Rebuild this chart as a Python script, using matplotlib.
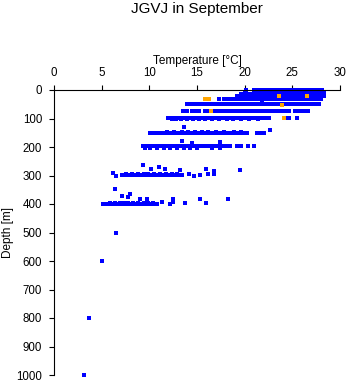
import numpy as np
import matplotlib
matplotlib.use('Agg')
import matplotlib.pyplot as plt

plt.rcParams['font.family'] = ['Liberation Sans', 'DejaVu Sans']

# Filas densas de datos: profundidad (m) y temperaturas (°C)
row_depths = [0, 8, 15, 22, 33, 50, 75, 98, 103, 150, 146, 198, 202, 298, 294, 401, 397]
row_temps = [
    [20.1, 21.0, 21.3, 21.5, 21.8, 22.2, 22.4, 22.7, 23.0, 23.3, 23.6, 23.9, 24.2, 24.5, 24.8,
     25.1, 25.4, 25.7, 26.0, 26.3, 26.6, 26.9, 27.2, 27.5, 27.8, 28.1],
    [20.0, 21.1, 21.4, 21.7, 22.0, 22.3, 22.6, 22.9, 23.2, 23.5, 23.8, 24.1, 24.4, 24.7, 25.0,
     25.3, 25.6, 25.9, 26.2, 26.5, 26.8, 27.1, 27.4, 27.7, 28.0, 28.3],
    [19.6, 19.9, 20.3, 20.6, 21.0, 21.3, 21.6, 21.9, 22.2, 22.5, 22.8, 23.1, 23.4, 23.7, 24.0,
     24.3, 24.6, 24.9, 25.2, 25.5, 25.8, 26.1, 26.4, 26.7, 27.0, 27.3, 27.6, 27.9, 28.2],
    [19.2, 19.5, 19.8, 20.1, 20.4, 20.7, 21.0, 21.3, 21.6, 21.9, 22.2, 22.5, 22.8, 23.1, 23.4,
     23.7, 24.0, 24.3, 24.6, 24.9, 25.2, 25.5, 25.8, 26.1, 26.4, 26.7, 27.0, 27.3, 27.6, 27.9, 28.3],
    [17.3, 17.8, 18.1, 18.4, 18.8, 19.1, 19.4, 19.7, 20.0, 20.3, 20.6, 20.9, 21.2, 21.5, 21.8,
     22.1, 22.4, 22.7, 23.0, 23.3, 23.6, 23.9, 24.2, 24.5, 24.8, 25.1, 25.4, 25.7, 26.0, 26.3,
     26.6, 26.9, 27.2, 27.5, 27.8, 28.0],
    [13.9, 14.2, 14.6, 14.9, 15.1, 15.5, 15.7, 16.0, 16.3, 16.6, 16.9, 17.2, 17.5, 17.8, 18.1,
     18.4, 18.7, 19.0, 19.3, 19.6, 19.9, 20.2, 20.5, 20.8, 21.1, 21.4, 21.7, 22.0, 22.3, 22.6,
     22.9, 23.2, 23.5, 23.8, 24.1, 24.4, 24.7, 25.0, 25.3, 25.6, 25.9, 26.2, 26.5, 26.8, 27.1,
     27.4, 27.8],
    [13.5, 13.9, 14.5, 14.8, 15.2, 15.8, 16.1, 16.8, 17.1, 17.4, 17.7, 18.0, 18.3, 18.6, 18.9,
     19.2, 19.5, 19.8, 20.1, 20.4, 20.7, 21.0, 21.3, 21.6, 21.9, 22.2, 22.5, 22.8, 23.1, 23.4,
     23.7, 24.0, 24.3, 24.6, 25.3, 25.6, 26.0, 26.3, 26.6],
    [12.0, 12.3, 12.6, 12.9, 13.2, 13.5, 13.8, 14.1, 14.4, 14.7, 15.0, 15.3, 15.6, 15.9, 16.2,
     16.5, 16.8, 17.1, 17.4, 17.7, 18.0, 18.3, 18.6, 18.9, 19.2, 19.5, 19.8, 20.1, 20.4, 20.7,
     21.0, 21.3, 21.6, 21.9, 22.2, 22.5, 24.4, 24.7, 25.5],
    [12.4, 12.8, 13.3, 13.9, 14.6, 15.2, 15.8, 16.6, 17.3, 18.1, 18.8, 19.6, 20.5, 21.4],
    [10.1, 10.5, 10.9, 11.2, 11.5, 11.8, 12.1, 12.4, 12.7, 13.0, 13.3, 13.6, 13.9, 14.2, 14.5,
     14.8, 15.1, 15.4, 15.7, 16.0, 16.3, 16.6, 16.9, 17.2, 17.5, 17.8, 18.2, 18.5, 18.8, 19.2,
     19.5, 19.9, 20.2, 21.3, 21.7, 22.0],
    [11.9, 12.6, 13.4, 14.1, 14.8, 15.5, 16.2, 17.0, 17.8, 18.9, 19.6],
    [9.3, 9.6, 9.9, 10.2, 10.5, 10.8, 11.1, 11.4, 11.7, 12.0, 12.3, 12.6, 12.9, 13.2, 13.5, 13.8,
     14.1, 14.4, 14.7, 15.0, 15.4, 15.8, 16.2, 16.5, 16.9, 17.3, 17.7, 18.1, 18.5, 19.2, 19.6,
     20.3, 21.0],
    [9.5, 10.1, 10.8, 11.5, 12.2, 12.9, 13.6, 14.3, 15.0, 16.6, 17.4],
    [7.1, 7.4, 7.7, 8.0, 8.3, 8.6, 8.9, 9.2, 9.5, 9.8, 10.1, 10.4, 10.7, 11.0, 11.3, 11.6, 11.9,
     12.2, 12.5, 12.8, 13.1, 13.4],
    [7.6, 8.2, 8.8, 9.4, 9.9, 10.5, 11.1, 11.8, 12.4, 12.9],
    [5.1, 5.4, 5.7, 6.0, 6.3, 6.6, 6.9, 7.2, 7.5, 7.8, 8.1, 8.4, 8.7, 9.0, 9.3, 9.6, 9.9, 10.2,
     10.5, 10.8],
    [5.9, 6.4, 6.9, 7.3, 7.8, 8.3, 8.8, 9.4, 9.9, 10.4],
]

# Puntos sueltos (temperatura, profundidad)
extra_t = [13.6, 22.7, 13.4, 14.5, 17.4, 21.8, 9.3, 10.2, 11.05, 11.65, 13.2, 14.2, 14.7, 15.3,
           15.9, 16.2, 16.8, 16.8, 19.5, 6.2, 6.5, 6.4, 7.1, 8.0, 7.8, 9.0, 9.8, 11.3, 12.5,
           12.5, 12.2, 13.7, 15.3, 15.9, 18.3, 6.5, 5.0, 3.7, 3.1]
extra_d = [129, 140, 179, 185, 182, 44, 263, 277, 271, 277, 281, 295, 302, 299,
           277, 295, 283, 295, 281, 290, 302, 349, 372, 366, 374, 384, 382, 393, 381,
           393, 400, 395, 383, 395, 381, 500, 600, 800, 1000]

# Puntos naranjas
orange_t = [15.8, 16.3, 23.6, 26.5, 23.9, 16.5, 24.1]
orange_d = [33, 33, 22, 22, 51, 75, 98]

fig = plt.figure(figsize=(3.48, 3.84), dpi=100)
W, H = 348, 384
ax = fig.add_axes([54 / W, 1 - 375 / H, (340 - 54) / W, (375 - 90) / H])

# Todos los puntos azules juntos, con scatter (cuadrados de unos 3 px)
all_t = [t for temps in row_temps for t in temps] + extra_t
all_d = [d for d, temps in zip(row_depths, row_temps) for t in temps] + extra_d
ax.scatter(all_t, all_d, s=6, marker='s', c='#0000FF', linewidths=0, clip_on=False, zorder=2)
ax.scatter(orange_t, orange_d, s=6, marker='s', c='#FFA500', linewidths=0, clip_on=False,
           zorder=3)

ax.set_xlim(0, 30)
ax.set_ylim(1000, 0)
ax.set_xticks(range(0, 31, 5))
ax.set_yticks(range(0, 1001, 100))
ax.xaxis.tick_top()
for s in ['right', 'bottom']:
    ax.spines[s].set_visible(False)
for s in ['top', 'left']:
    ax.spines[s].set_linewidth(0.8)
ax.tick_params(axis='x', direction='out', length=3.6, width=0.8, pad=4, labelsize=8.3)
ax.tick_params(axis='y', direction='out', length=3.6, width=0.8, pad=5, labelsize=8.3)

fig.text(197 / W, 1 - 9 / H, 'JGVJ in September', ha='center', va='center', fontsize=11)
fig.text(197 / W, 1 - 64 / H, 'Temperature [°C]', ha='center', va='baseline', fontsize=8.5)
fig.text(7.5 / W, 1 - 232 / H, 'Depth [m]', ha='center', va='center', rotation=90, fontsize=8.5)

fig.savefig('out.png', dpi=100)
